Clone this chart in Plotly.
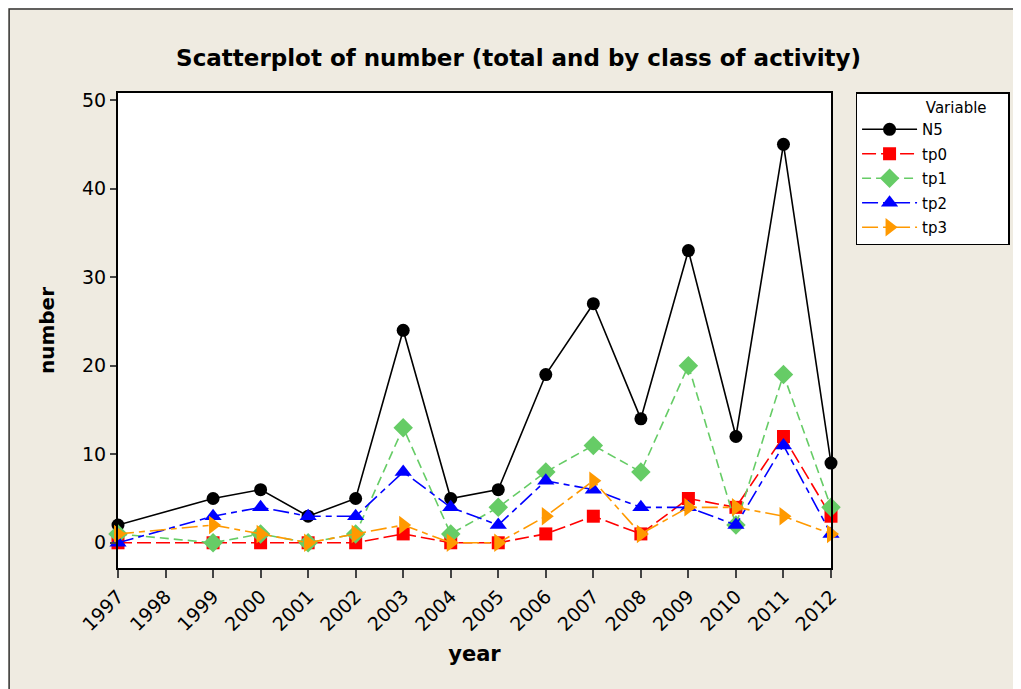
import plotly.graph_objects as go

# data (no 1998 point)
years = [1997, 1999, 2000, 2001, 2002, 2003, 2004, 2005, 2006, 2007, 2008, 2009, 2010, 2011, 2012]
n5  = [2, 5, 6, 3, 5, 24, 5, 6, 19, 27, 14, 33, 12, 45, 9]
tp0 = [0, 0, 0, 0, 0, 1, 0, 0, 1, 3, 1, 5, 4, 12, 3]
tp1 = [1, 0, 1, 0, 1, 13, 1, 4, 8, 11, 8, 20, 2, 19, 4]
tp2 = [0, 3, 4, 3, 3, 8, 4, 2, 7, 6, 4, 4, 2, 11, 1]
tp3 = [1, 2, 1, 0, 1, 2, 0, 0, 3, 7, 1, 4, 4, 3, 1]
tick_years = list(range(1997, 2013))

bg = '#EFEBE1'
font = 'DejaVu Sans'

# name, values, colour, symbol, size, dash
series = [
    ('N5', n5, 'black', 'circle', 13, 'solid'),
    ('tp0', tp0, '#FF0000', 'square', 13, '14px,5px'),
    ('tp1', tp1, '#66CC66', 'diamond', 15, '9px,5px'),
    ('tp2', tp2, '#0000FF', 'triangle-up', 15, '16px,5px,6px,5px'),
    ('tp3', tp3, '#FF9900', 'triangle-right', 16, '16px,5px,6px,5px'),
]

fig = go.Figure()
for name, vals, col, sym, sz, dash in series:
    fig.add_trace(go.Scatter(
        x=years, y=vals, name=name, legendgroup=name,
        mode='lines+markers',
        line=dict(color=col, width=1.6, dash=dash),
        marker=dict(symbol=sym, size=sz, color=col),
        cliponaxis=False,
    ))

# page has an 8px body margin, so the figure is a bit smaller than the window
fig.update_layout(
    width=1013, height=681,
    paper_bgcolor=bg, plot_bgcolor='white',
    margin=dict(l=110, r=189, t=85, b=121),
    font=dict(family=font, color='black'),
    title=dict(text='<b>Scatterplot of number (total and by class of activity)</b>',
               x=0.504, xanchor='center', y=0.927, yanchor='middle',
               font=dict(size=23)),
    legend=dict(
        x=1.033, xanchor='left', y=1.002, yanchor='top',
        bgcolor='white', bordercolor='black', borderwidth=1.5,
        font=dict(size=15),
        title=dict(text='\u00a0' * 14 + 'Variable' + '\u00a0' * 4, font=dict(size=15)),
        tracegroupgap=2, itemwidth=55,
    ),
    shapes=[dict(type='rect', xref='paper', yref='paper',
                 x0=-0.1527, x1=1.5, y0=-0.5, y1=1.177,
                 line=dict(color='#333333', width=1.5), fillcolor='rgba(0,0,0,0)',
                 layer='below')],
)

fig.update_xaxes(
    range=[1997, 2012], tickvals=tick_years, ticktext=[str(t) for t in tick_years],
    tickangle=-45, ticks='outside', ticklen=8, tickwidth=1.5,
    showline=True, linecolor='black', linewidth=2, mirror=True,
    showgrid=False, zeroline=False,
    tickfont=dict(size=19),
    title=dict(text='<b>year</b>', font=dict(size=21), standoff=12),
)
fig.update_yaxes(
    range=[-2.85, 50.8], tickvals=[0, 10, 20, 30, 40, 50],
    ticks='outside', ticklen=6, tickwidth=1.5,
    showline=True, linecolor='black', linewidth=2, mirror=True,
    showgrid=False, zeroline=False,
    tickfont=dict(size=19),
    title=dict(text='<b>number</b>', font=dict(size=20), standoff=22),
)

fig.write_html('out.html')
